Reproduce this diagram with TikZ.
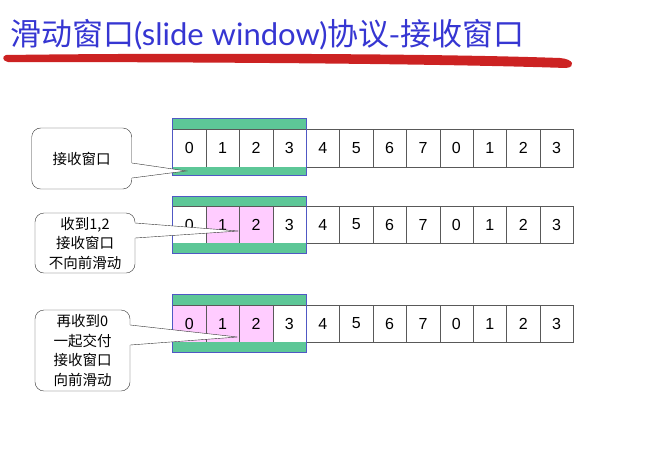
\documentclass[tikz,border=0pt]{standalone}
\usepackage{fontspec}
\setmainfont{Liberation Sans}
\newfontfamily\cjk{Noto Sans CJK SC}
\newfontfamily\latinfont{Lato}
\usetikzlibrary{positioning,calc}
\definecolor{WinGreen}{HTML}{5DC797}
\definecolor{WinBlue}{HTML}{5058C4}
\definecolor{AckPink}{HTML}{FFCCFF}
\definecolor{TitleBlue}{HTML}{3636D2}
\definecolor{BrushRed}{HTML}{CC2222}

\begin{document}
\begin{tikzpicture}[x=1pt,y=-1pt,
  cell/.style={draw=black!65,minimum width=33.4pt,minimum height=37.5pt,inner sep=0pt,font=\fontsize{16}{16}\selectfont},
  band/.style={fill=WinGreen},
  win/.style={draw=WinBlue,semithick},
  note/.style={draw=black!80,fill=white,rounded corners=9pt,align=center,inner sep=0pt,font=\cjk\fontsize{14.5}{19.5}\selectfont},
  pointer/.style={draw=black!80,line join=miter}
]
\useasboundingbox (0,0) rectangle (660,456);

% title
\node[anchor=base west,inner sep=0pt,text=TitleBlue] (title) at (10,45)
  {\cjk\fontsize{31}{31}\selectfont 滑动窗口{\latinfont\fontsize{31}{31}\selectfont(slide window)}协议-接收窗口};
\fill[BrushRed] (6,55) .. controls (150,53) and (420,53) .. (560,58)
  .. controls (574,59) and (576,67) .. (566,68)
  .. controls (420,63) and (150,62) .. (8,62)
  .. controls (2,61) and (2,56) .. (6,55);

% row 1
\foreach \lab [count=\i from 0] in {0,1,2,3,4,5,6,7,0,1,2,3}
  \node[cell] (a\i) at (189.2+33.4*\i,148) {\lab};
\fill[band] ($(a0.north west)+(0,-11)$) rectangle (a3.north east);
\fill[band] (a0.south west) rectangle ($(a3.south east)+(0,8)$);
\draw[win] ($(a0.north west)+(0,-11)$) rectangle ($(a3.south east)+(0,8)$);

% row 2
\foreach \lab [count=\i from 0] in {0,1,2,3,4,5,6,7,0,1,2,3}{
  \pgfmathtruncatemacro\pink{and(\i>0,\i<3)}
  \ifnum\pink=1 \def\cellfill{AckPink}\else\def\cellfill{white}\fi
  \node[cell,fill=\cellfill] (b\i) at (189.2+33.4*\i,224.5) {\lab};
}
\fill[band] ($(b0.north west)+(0,-9)$) rectangle (b3.north east);
\fill[band] (b0.south west) rectangle ($(b3.south east)+(0,10)$);
\draw[win] ($(b0.north west)+(0,-9)$) rectangle ($(b3.south east)+(0,10)$);

% row 3
\foreach \lab [count=\i from 0] in {0,1,2,3,4,5,6,7,0,1,2,3}{
  \ifnum\i<3 \def\cellfill{AckPink}\else\def\cellfill{white}\fi
  \node[cell,fill=\cellfill] (c\i) at (189.2+33.4*\i,323.5) {\lab};
}
\fill[band] ($(c0.north west)+(0,-10)$) rectangle (c3.north east);
\fill[band] (c0.south west) rectangle ($(c3.south east)+(0,10)$);
\draw[win] ($(c0.north west)+(0,-10)$) rectangle ($(c3.south east)+(0,10)$);

% callouts
\node[note,minimum width=100pt,minimum height=61pt] (n1) at (81.7,158.5) {接收窗口};
\coordinate (t1) at ($(a0.south west)+(14,4)$);
\fill[white] ($(n1.east)+(-1,4.5)$) -- (t1) -- ($(n1.east)+(-1,19.5)$) -- cycle;
\draw[pointer] ($(n1.east)+(0,4.5)$) -- (t1) -- ($(n1.east)+(0,19.5)$);

\node[note,minimum width=100pt,minimum height=60pt] (n2) at (85,243) {收到1,2\\接收窗口\\不向前滑动};
\coordinate (t2) at ($(b1.east)+(-1,6.5)$);
\fill[white] ($(n2.east)+(-1,-20)$) -- (t2) -- ($(n2.east)+(-1,-5)$) -- cycle;
\draw[pointer] ($(n2.east)+(0,-20)$) -- (t2) -- ($(n2.east)+(0,-5)$);

\node[note,minimum width=95pt,minimum height=81pt] (n3) at (82.5,350.5) {再收到0\\一起交付\\接收窗口\\向前滑动};
\coordinate (t3) at ($(c1.east)+(-2,13.5)$);
\fill[white] ($(n3.east)+(-1,-25.5)$) -- (t3) -- ($(n3.east)+(-1,-5.5)$) -- cycle;
\draw[pointer] ($(n3.east)+(0,-25.5)$) -- (t3) -- ($(n3.east)+(0,-5.5)$);
\end{tikzpicture}
\end{document}
